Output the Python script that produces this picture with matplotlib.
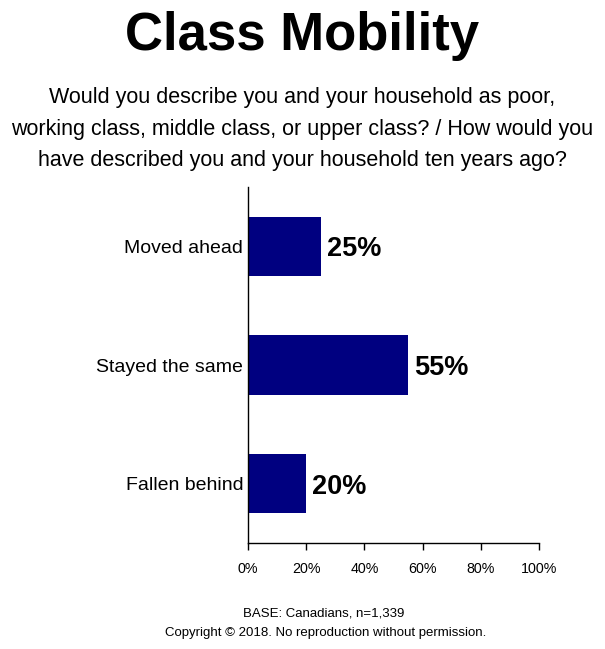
import matplotlib.pyplot as plt
from matplotlib.ticker import FuncFormatter

categories = ["Moved ahead", "Stayed the same", "Fallen behind"]
values = [25, 55, 20]
x_ticks = [0, 20, 40, 60, 80, 100]

title = "Class Mobility"
subtitle = ["Would you describe you and your household as poor,",
            "working class, middle class, or upper class? / How would you",
            "have described you and your household ten years ago?"]
footer_base = "BASE: Canadians, n=1,339"
footer_copy = "Copyright \u00a9 2018. No reproduction without permission."

FONT = ["Liberation Sans", "DejaVu Sans"]
BAR_COLOR = "#000080"

W, H = 605, 649


def fy(py):
    # pixel row from top -> figure fraction
    return 1 - py / H


fig = plt.figure(figsize=(W / 100, H / 100), dpi=100)
ax = fig.add_axes([248 / W, 1 - 543 / H, 291 / W, 356 / H])

pos = list(range(len(categories)))
ax.barh(pos, values, height=0.5, color=BAR_COLOR)
for p, v in zip(pos, values):
    ax.text(v + 2, p, f"{v}%", va="center_baseline", ha="left", fontsize=19.5,
            fontweight="bold", family=FONT)

ax.set_ylim(len(categories) - 0.5, -0.5)
ax.set_xlim(0, 100)
ax.set_yticks(pos)
ax.set_yticklabels(categories, family=FONT, fontsize=14)
ax.tick_params(axis="y", length=0, pad=3.5)
ax.set_xticks(x_ticks)
ax.xaxis.set_major_formatter(FuncFormatter(lambda v, _: f"{v:.0f}%"))
ax.tick_params(axis="x", length=5, width=1, pad=9, labelsize=10.3)
for lab in ax.get_xticklabels():
    lab.set_family(FONT)

for side in ["top", "right"]:
    ax.spines[side].set_visible(False)
for side in ["left", "bottom"]:
    ax.spines[side].set_linewidth(1)

fig.text(0.5, fy(50), title, ha="center", va="baseline", fontsize=38,
         fontweight="bold", family=FONT)
for i, line in enumerate(subtitle):
    fig.text(0.5, fy(103 + 31.5 * i), line, ha="center", va="baseline",
             fontsize=15.5, family=FONT)

fig.text(324 / W, fy(613), footer_base, ha="center", va="center",
         fontsize=9.5, family=FONT)
fig.text(326 / W, fy(633), footer_copy, ha="center", va="center",
         fontsize=9.5, family=FONT)

fig.savefig("out.png", dpi=100)
